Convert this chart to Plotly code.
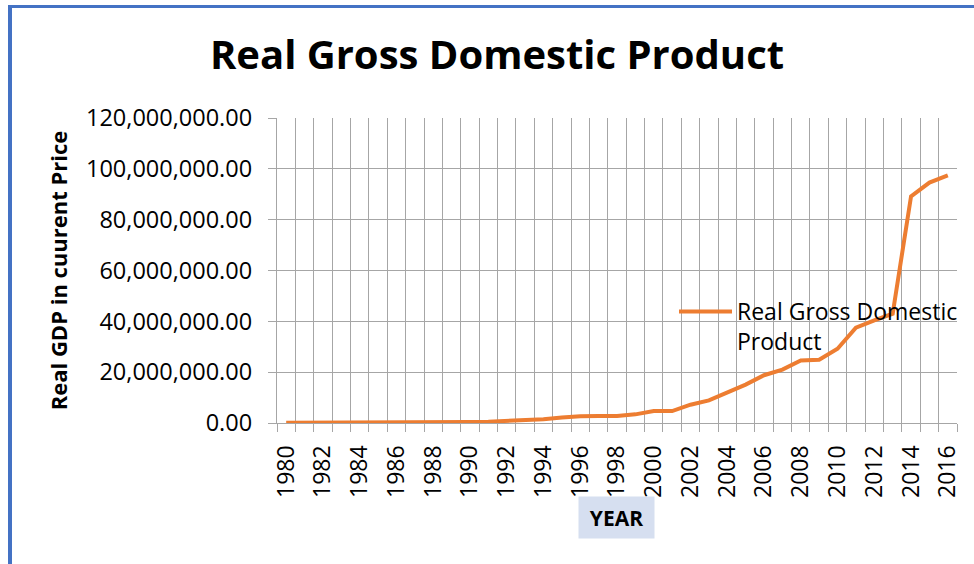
import plotly.graph_objects as go

# ---- data ----
years = list(range(1980, 2017))
gdp = [0.05e6, 0.05e6, 0.06e6, 0.07e6, 0.08e6, 0.09e6, 0.10e6, 0.15e6, 0.20e6, 0.27e6,
       0.35e6, 0.50e6, 0.80e6, 1.10e6, 1.50e6, 2.20e6, 2.70e6, 2.80e6, 2.80e6, 3.40e6,
       4.70e6, 4.70e6, 7.20e6, 8.90e6, 11.8e6, 15.1e6, 18.8e6, 21.0e6, 24.6e6, 24.9e6,
       29.2e6, 37.5e6, 40.4e6, 43.0e6, 89.2e6, 94.6e6, 97.4e6]
label_years = [y for y in years if y % 2 == 0]
label_text = [str(y) for y in label_years]
y_ticks = [0, 20e6, 40e6, 60e6, 80e6, 100e6, 120e6]

series_name = "Real Gross Domestic<br>Product"
title_text = "Real Gross Domestic Product"
y_title = "Real GDP in cuurent Price"
x_title = "YEAR"

FONT = "Open Sans"
GRID = "#a6a6a6"
ORANGE = "#ED7D31"
BLUE = "#4472C4"

W, H = 974, 564
ML, MR, MT, MB = 277, 17, 118, 141
PW, PH = W - ML - MR, H - MT - MB


def px_x(px):
    return (px - ML) / PW


def px_y(py):
    return (H - MB - py) / PH


fig = go.Figure()
fig.add_trace(go.Scatter(
    x=years, y=gdp, mode="lines", name=series_name,
    line=dict(color=ORANGE, width=4),
    showlegend=True,
))

boundaries = [years[0] - 0.5 + i for i in range(len(years) + 1)]

fig.update_layout(
    width=W, height=H,
    margin=dict(l=ML, r=MR, t=MT, b=MB, autoexpand=False),
    paper_bgcolor="white", plot_bgcolor="white",
    font=dict(family=FONT, color="black", size=22),
    title=dict(text=title_text, x=497 / W, xref="container", xanchor="center",
               y=1 - 55 / H, yref="container", yanchor="middle",
               font=dict(family=FONT, size=40, weight="bold", color="black")),
    showlegend=True,
    legend=dict(x=px_x(674), y=px_y(290), xanchor="left", yanchor="top",
                bgcolor="rgba(0,0,0,0)", font=dict(family=FONT, size=23),
                valign="top", itemwidth=53, tracegroupgap=0),
    xaxis=dict(
        range=[years[0] - 0.5, years[-1] + 0.5],
        tickmode="array", tickvals=label_years, ticktext=label_text,
        tickangle=-90, ticks="", showgrid=False,
        showline=True, linecolor=GRID, linewidth=1.3,
        tickfont=dict(family=FONT, size=23),
        ticklabelstandoff=12,
        minor=dict(tickmode="array", tickvals=boundaries, ticks="outside",
                   ticklen=8, tickcolor=GRID, tickwidth=1.3,
                   showgrid=True, gridcolor=GRID, gridwidth=1.3),
        zeroline=False,
    ),
    yaxis=dict(
        range=[0, 120e6], tickmode="array", tickvals=y_ticks,
        tickformat=",.2f", showgrid=True, gridcolor=GRID, gridwidth=1.3,
        showline=True, linecolor=GRID, linewidth=1.3,
        ticks="outside", ticklen=8, tickcolor=GRID, tickwidth=1.3,
        ticklabelstandoff=11,
        tickfont=dict(family=FONT, size=23.5),
        zeroline=False,
        title=dict(text=y_title, standoff=12,
                   font=dict(family=FONT, size=22, weight="bold", color="black")),
    ),
)

fig.add_annotation(
    text=x_title, xref="paper", yref="paper",
    x=px_x(616), y=px_y(517), xanchor="center", yanchor="middle",
    showarrow=False, bgcolor="#d6dff0", width=71, height=37, borderpad=2,
    font=dict(family=FONT, size=21, weight="bold", color="black"),
)

# blue frame edges (left and top)
fig.add_shape(type="line", xref="paper", yref="paper",
              x0=px_x(10), x1=px_x(10), y0=px_y(5), y1=px_y(H + 5),
              line=dict(color=BLUE, width=4))
fig.add_shape(type="line", xref="paper", yref="paper",
              x0=px_x(8), x1=px_x(W + 5), y0=px_y(6.5), y1=px_y(6.5),
              line=dict(color=BLUE, width=3))

fig.write_html("out.html", config={"displayModeBar": False},
               post_script="document.body.style.margin='0';document.body.style.padding='0';")
